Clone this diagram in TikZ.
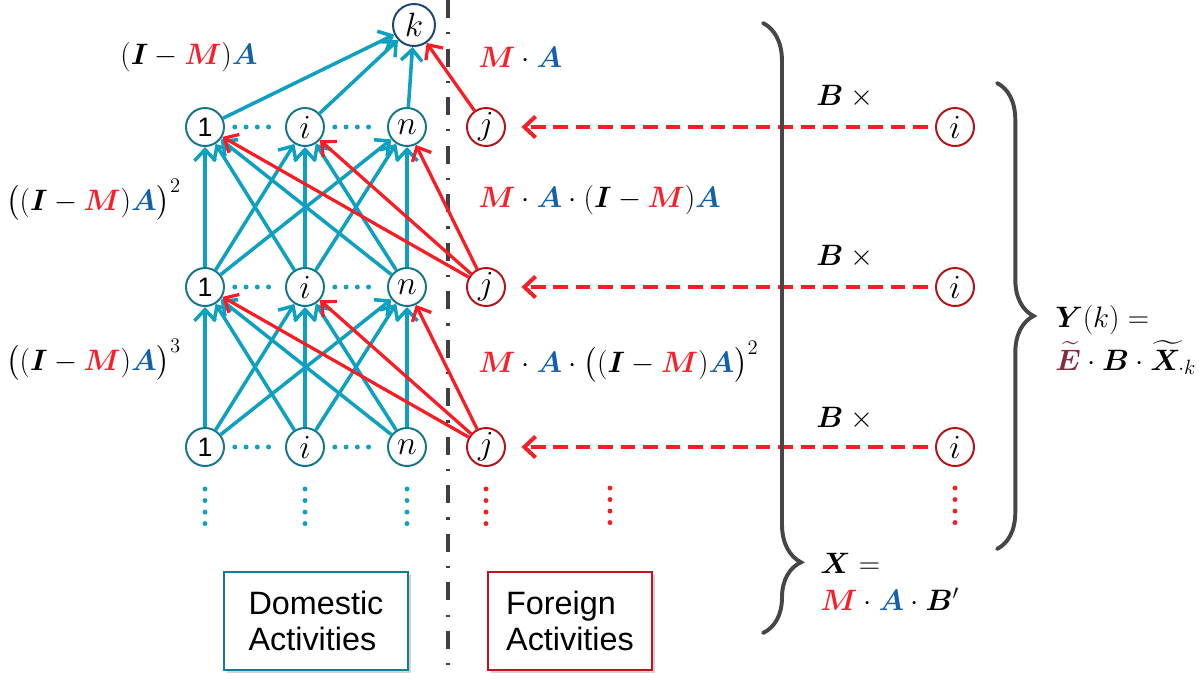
\documentclass[tikz,border=0pt]{standalone}
\usepackage{fix-cm}
\usepackage{amsmath}
\usepackage{bm}
\usepackage{fontspec}
\setsansfont{Liberation Sans}
\usepackage{tikz}
\usetikzlibrary{arrows.meta, decorations.pathreplacing, shadows, positioning}

\definecolor{edgeblue}{RGB}{14,160,192}
\definecolor{nodeteal}{RGB}{22,118,138}
\definecolor{kblue}{RGB}{30,70,115}
\definecolor{arrred}{RGB}{250,28,36}
\definecolor{nodered}{RGB}{180,20,25}
\definecolor{mred}{RGB}{250,30,40}
\definecolor{mblue}{RGB}{22,96,170}
\definecolor{emaroon}{RGB}{135,45,65}
\definecolor{bracegray}{RGB}{70,70,70}
\definecolor{boxteal}{RGB}{20,125,150}
\definecolor{boxred}{RGB}{195,20,30}

\newcommand{\mM}{\textcolor{mred}{\bm{M}}}
\newcommand{\mA}{\textcolor{mblue}{\bm{A}}}
\newcommand{\IMA}{(\bm{I}-\mM)\mA}
\newcommand{\unit}{{\sffamily\fontsize{19}{20}\selectfont 1}}

\begin{document}
\begin{tikzpicture}[x=0.025cm, y=-0.025cm,
  dnode/.style={circle, draw=nodeteal, line width=1.4pt, fill=white,
                minimum size=0.95cm, inner sep=0pt, font=\fontsize{24}{26}\selectfont},
  fnode/.style={dnode, draw=nodered},
  barr/.style={-{Straight Barb[length=8pt, width=15pt]}, line width=2.5pt, edgeblue},
  rarr/.style={barr, arrred, line width=2.3pt},
  farr/.style={rarr, line width=2.8pt, dash pattern=on 10.5pt off 5.5pt,
               shorten >=11pt, shorten <=5pt},
  hdots/.style={edgeblue, line width=3.5pt, line cap=round,
                dash pattern=on 0pt off 8pt, shorten <=7pt, shorten >=10pt},
  vdots/.style={line width=3.5pt, line cap=round, dash pattern=on 0pt off 8.2pt},
  divider/.style={line width=2.6pt, black!75, dash pattern=on 13pt off 10pt on 1.5pt off 10pt},
  brc/.style={decorate, line width=2.8pt, bracegray, line cap=round},
  eq/.style={font=\fontsize{21}{31}\selectfont, inner sep=0pt},
  actbox/.style={draw, line width=1.8pt, fill=white, minimum width=4.6cm,
                 minimum height=2.45cm, align=left,
                 font=\sffamily\fontsize{23}{26}\selectfont,
                 drop shadow={opacity=0.35, shadow xshift=2pt, shadow yshift=-2pt}}
]
\useasboundingbox (0,0) rectangle (1203,679);

%
%  Layout (pixels, y downwards):
%
%  row 0 :                 (k)
%  row 1 :  (1) .. (i) .. (n) | (j) <- - - - - - - - (i)
%  row 2 :  (1) .. (i) .. (n) | (j) <- - - - - - - - (i)
%  row 3 :  (1) .. (i) .. (n) | (j) <- - - - - - - - (i)
%          [Domestic]         | [Foreign]
%

% --- divider ---
\draw[divider] (448,0) -- (448,679);

% --- target ---
\node[dnode, draw=kblue, minimum size=1.05cm] (k) at (414,25) {$k$};

% --- domestic rows ---
\node[dnode] (one1) at (205,127) {\unit};
\node[dnode] (i1)   at (305,127) {$i$};
\node[dnode] (n1)   at (407,127) {$n$};
\node[dnode] (one2) at (205,287) {\unit};
\node[dnode] (i2)   at (305,287) {$i$};
\node[dnode] (n2)   at (407,287) {$n$};
\node[dnode] (one3) at (205,447) {\unit};
\node[dnode] (i3)   at (305,447) {$i$};
\node[dnode] (n3)   at (407,447) {$n$};

% --- foreign rows ---
\node[fnode] (j1) at (486,127) {$j$};
\node[fnode] (j2) at (486,287) {$j$};
\node[fnode] (j3) at (486,447) {$j$};

\node[fnode] (ri1) at (955,127) {$i$};
\node[fnode] (ri2) at (955,287) {$i$};
\node[fnode] (ri3) at (955,447) {$i$};

% ---- Connections ----

% domestic layer to layer
\foreach \lo/\hi in {2/1, 3/2} {
  \foreach \s in {one,i,n} {
    \foreach \t in {one,i,n} {
      \draw[barr] (\s\lo) -- (\t\hi);
    }
  }
}
\foreach \s in {one,i,n} \draw[barr] (\s1) -- (k);

% foreign j into the layer above
\foreach \lo/\hi in {2/1, 3/2} {
  \foreach \t in {one,i,n} \draw[rarr] (j\lo) -- (\t\hi);
}
\draw[rarr] (j1) -- (k);

% B x i  feeding j
\foreach \r in {1,2,3} \draw[farr] (ri\r) -- (j\r);

% dots in the rows
\foreach \r in {1,2,3} {
  \draw[hdots] (one\r) -- (i\r);
  \draw[hdots] (i\r) -- (n\r);
}

% dots below
\foreach \s in {one,i,n} \draw[vdots, edgeblue] (\s3.south) ++(0,22) -- ++(0,35);
\draw[vdots, arrred] (j3.south) ++(0,22) -- ++(0,35);
\draw[vdots, arrred] (610,488) -- (610,523);
\draw[vdots, arrred] (ri3.south) ++(0,21) -- ++(0,35);

% --- braces ---
\draw[brc, decoration={brace, amplitude=27pt, aspect=0.884}] (763,23) -- (763,633);
\draw[brc, decoration={brace, amplitude=26pt, aspect=0.5}] (997,83) -- (997,549);

% --- formulas ---
\node[eq] (lbla1) at (189,57) {$\IMA$};
\node[eq, anchor=west] (lbla2) at (6,200) {$\bigl(\IMA\bigr)^2$};
\node[eq, anchor=west] (lbla3) at (6,360) {$\bigl(\IMA\bigr)^3$};

\node[eq, anchor=west] (lblf1) at (478,57)  {$\mM\cdot\mA$};
\node[eq, anchor=west] (lblf2) at (478,200) {$\mM\cdot\mA\cdot\IMA$};
\node[eq, anchor=west] (lblf3) at (478,362) {$\mM\cdot\mA\cdot\bigl(\IMA\bigr)^2$};

\node[eq] (bx1) at (848,97)  {$\bm{B}\times{}$};
\node[eq] (bx2) at (848,257) {$\bm{B}\times{}$};
\node[eq] (bx3) at (848,419) {$\bm{B}\times{}$};

\node[eq, anchor=base west] (ylbl) at (1055,327) {$\bm{Y}(k) =$};
\node[eq, anchor=base west] (ylbl2) at (1055,370)
  {$\textcolor{emaroon}{\widetilde{\bm{E}}}\cdot\bm{B}\cdot\widetilde{\bm{X}}_{\cdot k}$};
\node[eq, anchor=base west] (xlbl) at (820,573) {$\bm{X} =$};
\node[eq, anchor=base west] (xlbl2) at (820,610) {$\mM\cdot\mA\cdot\bm{B}'$};

% --- activity boxes ---
\node[actbox, draw=boxteal] (dom) at (316,621) {Domestic\\Activities};
\node[actbox, draw=boxred, minimum width=4.1cm] (fgn) at (570,621) {Foreign\\Activities};

\end{tikzpicture}
\end{document}
